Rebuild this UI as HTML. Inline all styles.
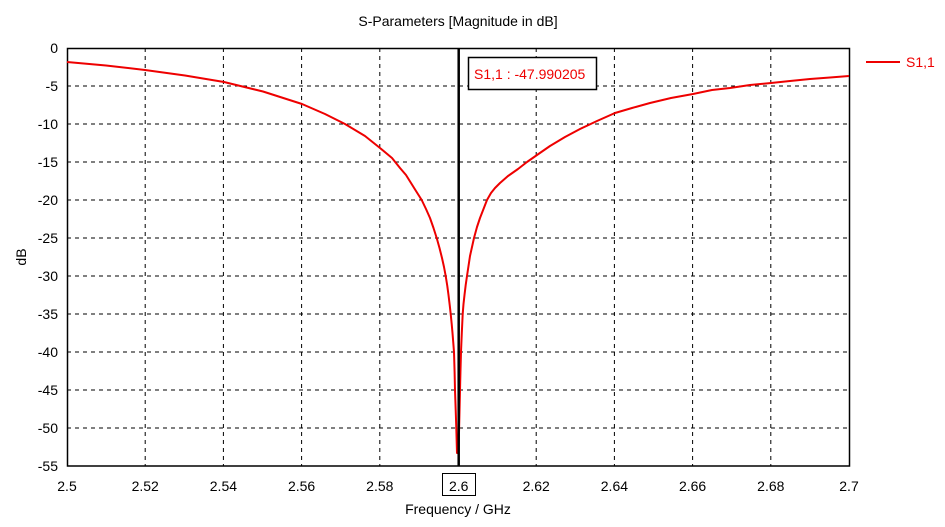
<!DOCTYPE html>
<html><head><style>body{margin:0;background:#fff}</style></head><body>
<svg width="945" height="522" xmlns="http://www.w3.org/2000/svg" font-family="Liberation Sans, DejaVu Sans, sans-serif" font-size="14">
<rect width="945" height="522" fill="#fff"/>
<text x="458" y="26" text-anchor="middle" font-size="14">S-Parameters [Magnitude in dB]</text>
<g stroke="#000" stroke-dasharray="4,4" stroke-width="1">
<line x1="67" y1="86" x2="849" y2="86"/><line x1="67" y1="124" x2="849" y2="124"/><line x1="67" y1="162" x2="849" y2="162"/><line x1="67" y1="200" x2="849" y2="200"/><line x1="67" y1="238" x2="849" y2="238"/><line x1="67" y1="276" x2="849" y2="276"/><line x1="67" y1="314" x2="849" y2="314"/><line x1="67" y1="352" x2="849" y2="352"/><line x1="67" y1="390" x2="849" y2="390"/><line x1="67" y1="428" x2="849" y2="428"/>
<line x1="145.2" y1="48" x2="145.2" y2="466"/><line x1="223.4" y1="48" x2="223.4" y2="466"/><line x1="301.6" y1="48" x2="301.6" y2="466"/><line x1="379.8" y1="48" x2="379.8" y2="466"/><line x1="536.2" y1="48" x2="536.2" y2="466"/><line x1="614.4" y1="48" x2="614.4" y2="466"/><line x1="692.6" y1="48" x2="692.6" y2="466"/><line x1="770.8" y1="48" x2="770.8" y2="466"/>
</g>
<rect x="67.5" y="48.5" width="782" height="417.5" fill="none" stroke="#000" stroke-width="1.5"/>
<polyline fill="none" stroke="#e00" stroke-width="2" stroke-linejoin="round" points="67,62 106,65.5 145,70 185,75.5 224,82 263,91.5 302,104 325,114 345,124 365,136 380,148 392,158 400,168 406,175 411,183 416,191 421.7,200 426,209 430,218 433.5,228 436.7,238 439.5,248 442,258 444,267 445.7,276 447.3,286 448.5,295 449.7,305 450.7,314 451.7,324 452.5,333 453.3,343 454,352 454.6,372 455,390 455.7,410 456.3,428 457,453 458.5,453 459.3,420 460,390 460.5,370 461,352 461.8,333 462.7,314 463.5,304 464.5,295 465.7,285 467,276 468.5,266 470,256 472,247 474,238 477,227 480,218 483.5,209 487,200 491,193 495,188 500,183 508,176 518,169 527,162 537,155 550,146 565,137 580,129 597,121 615,113 632,108 650,103 671,98 693,94 712,90 730,88 750,85 771,83 790,81 810,79 830,77.5 849,76"/>
<line x1="458.7" y1="48" x2="458.7" y2="466" stroke="#000" stroke-width="2.5"/>
<rect x="468.5" y="57.5" width="128" height="32" fill="#fff" stroke="#000" stroke-width="1.5"/>
<text x="474" y="79" fill="#e00">S1,1 : -47.990205</text>
<g text-anchor="end">
<text x="58" y="53">0</text><text x="58" y="91">-5</text><text x="58" y="129">-10</text><text x="58" y="167">-15</text><text x="58" y="205">-20</text><text x="58" y="243">-25</text><text x="58" y="281">-30</text><text x="58" y="319">-35</text><text x="58" y="357">-40</text><text x="58" y="395">-45</text><text x="58" y="433">-50</text><text x="58" y="471">-55</text>
</g>
<g text-anchor="middle">
<text x="67" y="491">2.5</text><text x="145.2" y="491">2.52</text><text x="223.4" y="491">2.54</text><text x="301.6" y="491">2.56</text><text x="379.8" y="491">2.58</text><text x="458.7" y="491">2.6</text><text x="536.2" y="491">2.62</text><text x="614.4" y="491">2.64</text><text x="692.6" y="491">2.66</text><text x="770.8" y="491">2.68</text><text x="849" y="491">2.7</text>
</g>
<rect x="442.5" y="473.5" width="33" height="22" fill="none" stroke="#000" stroke-width="1"/>
<text x="458" y="514" text-anchor="middle">Frequency / GHz</text>
<text x="26" y="257" text-anchor="middle" transform="rotate(-90 26 257)">dB</text>
<line x1="866" y1="62" x2="900" y2="62" stroke="#e00" stroke-width="2"/>
<text x="906" y="67" fill="#e00">S1,1</text>
</svg>
</body></html>
